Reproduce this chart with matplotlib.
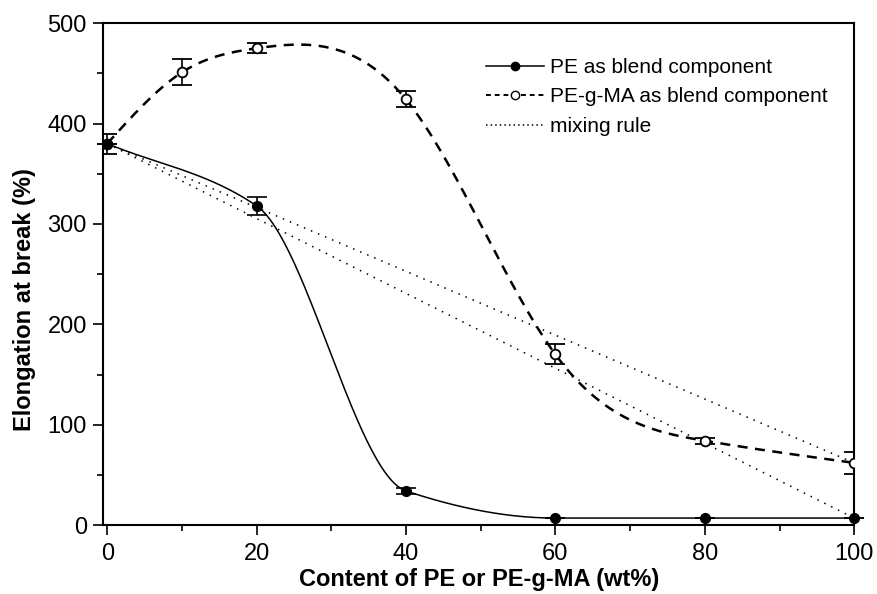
import numpy as np
import matplotlib.pyplot as plt
from matplotlib.ticker import MultipleLocator

plt.rcParams['font.family'] = ['Liberation Sans', 'DejaVu Sans']

# PE as blend component
x_pe = [0, 20, 40, 60, 80, 100]
y_pe = [380, 318, 34, 7, 7, 7]
err_pe = [0, 9, 3, 0, 0, 0]

# PE-g-MA as blend component
x_ma = [0, 10, 20, 40, 60, 80, 100]
y_ma = [380, 451, 475, 424, 170, 84, 62]
err_ma = [10, 13, 5, 8, 10, 3, 11]

# mixing rule end points
x_mix = [0, 100]
y_mix_ma = [380, 62]
y_mix_pe = [380, 7]


def spline(x, y, n=300):
    # natural cubic spline, only for the smooth connecting line
    x = np.asarray(x, float)
    y = np.asarray(y, float)
    k = len(x)
    h = np.diff(x)
    A = np.zeros((k, k))
    b = np.zeros(k)
    A[0, 0] = A[-1, -1] = 1
    for i in range(1, k - 1):
        A[i, i - 1] = h[i - 1]
        A[i, i] = 2 * (h[i - 1] + h[i])
        A[i, i + 1] = h[i]
        b[i] = 6 * ((y[i + 1] - y[i]) / h[i] - (y[i] - y[i - 1]) / h[i - 1])
    M = np.linalg.solve(A, b)
    xs = np.linspace(x[0], x[-1], n)
    j = np.clip(np.searchsorted(x, xs) - 1, 0, k - 2)
    t1 = x[j + 1] - xs
    t0 = xs - x[j]
    hj = h[j]
    ys = (M[j] * t1**3 + M[j + 1] * t0**3) / (6 * hj) \
        + (y[j] / hj - M[j] * hj / 6) * t1 + (y[j + 1] / hj - M[j + 1] * hj / 6) * t0
    return xs, ys


def pchip(x, y, n=300):
    # monotone cubic (Fritsch-Carlson), no overshoot
    x = np.asarray(x, float)
    y = np.asarray(y, float)
    h = np.diff(x)
    d = np.diff(y) / h
    m = np.zeros(len(x))
    for i in range(1, len(x) - 1):
        if d[i - 1] * d[i] > 0:
            w1 = 2 * h[i] + h[i - 1]
            w2 = h[i] + 2 * h[i - 1]
            m[i] = (w1 + w2) / (w1 / d[i - 1] + w2 / d[i])
    m[0] = d[0]
    m[-1] = d[-1]
    xs = np.linspace(x[0], x[-1], n)
    j = np.clip(np.searchsorted(x, xs) - 1, 0, len(x) - 2)
    t = (xs - x[j]) / h[j]
    h00 = 2 * t**3 - 3 * t**2 + 1
    h10 = t**3 - 2 * t**2 + t
    h01 = -2 * t**3 + 3 * t**2
    h11 = t**3 - t**2
    ys = h00 * y[j] + h10 * h[j] * m[j] + h01 * y[j + 1] + h11 * h[j] * m[j + 1]
    return xs, ys


fig = plt.figure(figsize=(8.77, 5.94), dpi=100)
ax = fig.add_axes([0.118, 0.116, 0.856, 0.845])

xs, ys = pchip(x_pe, y_pe)
ax.plot(xs, ys, color='black', lw=1.1)
xs, ys = spline(x_ma, y_ma)
ax.plot(xs, ys, color='black', lw=1.8, ls=(0, (4, 3)))

ax.plot(x_mix, y_mix_ma, color='black', lw=1.1, ls=(0, (1, 4)))
ax.plot(x_mix, y_mix_pe, color='black', lw=1.1, ls=(0, (1, 4)))

ax.errorbar(x_ma, y_ma, yerr=err_ma, fmt='o', color='black', mfc='white',
            mec='black', ms=7, mew=1.3, capsize=7, elinewidth=1.2, capthick=1.2, zorder=4)
ax.errorbar(x_pe, y_pe, yerr=err_pe, fmt='o', color='black', mfc='black',
            ms=7, capsize=7, elinewidth=1.2, capthick=1.2, zorder=5, clip_on=False)

# legend handles
h1, = ax.plot([], [], color='black', lw=1.1, marker='o', ms=6, mfc='black')
h2, = ax.plot([], [], color='black', lw=1.4, ls=(0, (2.5, 2)), marker='o', ms=6, mfc='white')
h3, = ax.plot([], [], color='black', lw=1.1, ls=(0, (1, 2)))
ax.legend([h1, h2, h3], ['PE as blend component', 'PE-g-MA as blend component', 'mixing rule'],
          loc='upper right', bbox_to_anchor=(0.99, 0.968), frameon=False, fontsize=15,
          handlelength=2.8, handletextpad=0.3, labelspacing=0.5)

ax.set_xlim(-0.5, 100)
ax.set_ylim(0, 500)
ax.xaxis.set_major_locator(MultipleLocator(20))
ax.xaxis.set_minor_locator(MultipleLocator(10))
ax.yaxis.set_major_locator(MultipleLocator(100))
ax.yaxis.set_minor_locator(MultipleLocator(50))
ax.tick_params(which='major', length=7, width=1.2, labelsize=17, direction='out')
ax.tick_params(which='minor', length=4, width=1.2, direction='out')
ax.tick_params(axis='x', which='major', pad=6)
ax.tick_params(axis='y', which='major', pad=5)
for s in ax.spines.values():
    s.set_linewidth(1.5)

ax.set_xlabel('Content of PE or PE-g-MA (wt%)', fontsize=17, fontweight='bold', labelpad=2)
ax.set_ylabel('Elongation at break (%)', fontsize=17, fontweight='bold')
ax.yaxis.set_label_coords(-0.09, 0.45)

fig.savefig('out.png', dpi=100)
